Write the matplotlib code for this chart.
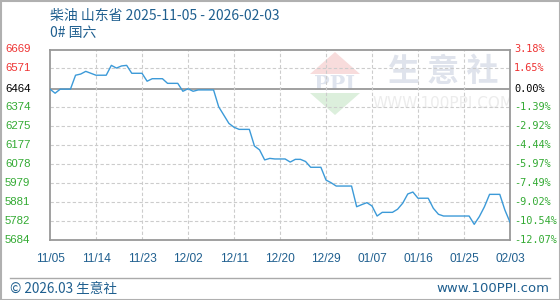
import matplotlib
matplotlib.use("Agg")
import matplotlib.pyplot as plt
from matplotlib.patches import Polygon, Rectangle
import numpy as np

plt.rcParams['font.family'] = ['Noto Sans CJK SC', 'DejaVu Sans']

title = "柴油 山东省 2025-11-05 - 2026-02-03"
subtitle = "0# 国六"
base_value = 6464
y_ticks = [6669, 6571, 6464, 6374, 6275, 6177, 6078, 5979, 5881, 5782, 5684]
pct_labels = ["3.18%", "1.65%", "0.00%", "-1.39%", "-2.92%", "-4.44%", "-5.97%",
              "-7.49%", "-9.02%", "-10.54%", "-12.07%"]
x_labels = ["11/05", "11/14", "11/23", "12/02", "12/11", "12/20", "12/29",
            "01/07", "01/16", "01/25", "02/03"]
label_step_days = 9
prices = [6464, 6443, 6464, 6464, 6464, 6536, 6542, 6556, 6546, 6536,
          6536, 6536, 6587, 6573, 6584, 6587, 6546, 6546, 6546, 6505,
          6518, 6518, 6518, 6494, 6494, 6494, 6453, 6466, 6453, 6460,
          6460, 6460, 6460, 6373, 6330, 6287, 6267, 6256, 6256, 6256,
          6170, 6150, 6098, 6106, 6103, 6103, 6103, 6087, 6101, 6101,
          6090, 6060, 6060, 6060, 5994, 5980, 5963, 5963, 5963, 5963,
          5856, 5867, 5877, 5860, 5808, 5827, 5827, 5827, 5843, 5874,
          5922, 5932, 5900, 5900, 5900, 5848, 5817, 5808, 5808, 5808,
          5808, 5808, 5808, 5765, 5805, 5856, 5920, 5920, 5920, 5839,
          5776]

W, H = 560, 300
fig = plt.figure(figsize=(W / 100, H / 100), dpi=100)
fig.patch.set_facecolor('white')

fig.add_artist(Rectangle((0.5 / W, 0.5 / H), 1 - 1 / W, 1 - 1 / H, transform=fig.transFigure,
                         fill=False, edgecolor='#b0b0b0', lw=1.5))

L, R, T, B = 50, 510, 49.5, 240
ax = fig.add_axes([L / W, 1 - B / H, (R - L) / W, (B - T) / H])
days = np.arange(len(prices))
ax.set_xlim(0, len(prices) - 1)
ax.set_ylim(y_ticks[-1], y_ticks[0])

def fx(px):
    return (px - L) / (R - L)
def fy(py):
    return (B - py) / (B - T)

# watermark
ax.add_patch(Polygon([(fx(310), fy(74)), (fx(335), fy(52)), (fx(360), fy(74))],
                     closed=True, transform=ax.transAxes, facecolor='#f8dcdc', edgecolor='none', zorder=0))
ax.add_patch(Polygon([(fx(310), fy(93)), (fx(335), fy(115)), (fx(360), fy(93))],
                     closed=True, transform=ax.transAxes, facecolor='#dcefdc', edgecolor='none', zorder=0))
ax.text(fx(335), fy(84), "PPI", transform=ax.transAxes, ha='center', va='center',
        fontsize=15, color='#dfe4ee', family='DejaVu Serif', fontweight='bold', zorder=0)
ax.text(fx(443), fy(72), "生 意 社", transform=ax.transAxes, ha='center', va='center',
        fontsize=23, color='#dfe3ec', fontweight='bold', zorder=0, clip_on=True)
ax.text(fx(443), fy(104), "WWW.100PPI.COM", transform=ax.transAxes, ha='center', va='center',
        fontsize=11, color='#ececec', zorder=0, family='DejaVu Sans', clip_on=True)

for v in y_ticks[1:-1]:
    if v == base_value:
        ax.axhline(v, color='#999999', lw=1.3, zorder=1)
    else:
        ax.axhline(v, color='#cccccc', lw=0.8, ls=(0, (3, 2)), zorder=1)
for i in range(1, len(x_labels) - 1):
    ax.axvline(i * label_step_days, color='#cccccc', lw=0.8, ls=(0, (3, 2)), zorder=1)

ax.plot(days, prices, color='#3c9ad8', lw=1.0, zorder=3)

ax.set_xticks([])
ax.set_yticks([])
for s in ax.spines.values():
    s.set_color('#999999')
    s.set_linewidth(1.3)

def color_for(v):
    if v > base_value:
        return '#ee3333'
    if v == base_value:
        return '#000000'
    return '#33aa33'

span = y_ticks[0] - y_ticks[-1]
for v, p in zip(y_ticks, pct_labels):
    c = color_for(v)
    yy = (v - y_ticks[-1]) / span
    ax.text(fx(5), yy, str(v), transform=ax.transAxes, ha='left', va='center',
            fontsize=8.2, color=c, family='Liberation Sans')
    ax.text(fx(514), yy, p, transform=ax.transAxes, ha='left', va='center',
            fontsize=7.4, color=c, family='DejaVu Sans Mono')

for i, lab in enumerate(x_labels):
    ax.text(i * label_step_days, fy(258.5), lab, transform=ax.get_xaxis_transform(),
            ha='center', va='center', fontsize=8.6, color='#1f5f8f', family='Liberation Sans')

fig.text(50 / W, 1 - 15.5 / H, title, ha='left', va='center', fontsize=10, color='#1f5f8f')
fig.text(50 / W, 1 - 33 / H, subtitle, ha='left', va='center', fontsize=10, color='#1f5f8f')

fig.add_artist(plt.Line2D([10 / W, 550 / W], [1 - 278 / H, 1 - 278 / H], transform=fig.transFigure,
                          color='#aaaaaa', lw=1))
fig.text(10 / W, 1 - 289 / H, "© 2026.03 生意社", ha='left', va='center', fontsize=9.8, color='#1f5f8f')
fig.text(549 / W, 1 - 289 / H, "www.100PPI.com", ha='right', va='center', fontsize=9.5, color='#1f5f8f',
         family='DejaVu Sans')

fig.savefig("out.png", dpi=100, facecolor='white')
